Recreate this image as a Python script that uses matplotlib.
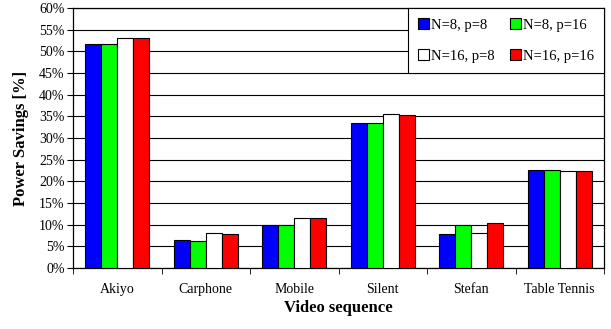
import matplotlib
matplotlib.use("Agg")
import matplotlib.pyplot as plt
import numpy as np

categories = ["Akiyo", "Carphone", "Mobile", "Silent", "Stefan", "Table Tennis"]
series_names = ["N=8, p=8", "N=8, p=16", "N=16, p=8", "N=16, p=16"]
n8_p8 = [51.6, 6.5, 9.9, 33.5, 7.8, 22.7]
n8_p16 = [51.6, 6.2, 9.9, 33.4, 9.9, 22.6]
n16_p8 = [53.0, 8.1, 11.5, 35.5, 8.0, 22.5]
n16_p16 = [53.0, 7.9, 11.5, 35.4, 10.3, 22.5]
colors = ["#0000ff", "#00ff00", "#ffffff", "#ff0000"]
yticks = list(range(0, 61, 5))

plt.rcParams['font.family'] = ['Liberation Serif', 'DejaVu Serif']

fig = plt.figure(figsize=(6.11, 3.29), dpi=100)
ax = fig.add_axes([73/611, 1-268/329, (604-73)/611, 260/329])

x = np.arange(len(categories))
w = 0.18
data = [n8_p8, n8_p16, n16_p8, n16_p16]
handles = []
for i, (vals, c, name) in enumerate(zip(data, colors, series_names)):
    b = ax.bar(x + (i - 1.5) * w, vals, width=w, color=c, edgecolor="black",
               linewidth=0.8, label=name, zorder=3)
    handles.append(b)

ax.set_xlim(-0.5, len(categories) - 0.5)
ax.set_ylim(0, 60)
ax.set_yticks(yticks)
ax.set_yticklabels([f"{t}%" for t in yticks], fontsize=10)
ax.yaxis.grid(True, color="black", linewidth=0.8, zorder=0)
ax.set_axisbelow(True)

ax.set_xticks(x)
ax.set_xticklabels(categories, fontsize=10)
ax.tick_params(axis="x", length=0, pad=11)
ax.set_xticks(np.arange(-0.5, len(categories)), minor=True)
ax.tick_params(axis="x", which="minor", length=4, direction="out")
ax.tick_params(axis="y", length=4, direction="out", width=0.8, pad=2)

for s in ax.spines.values():
    s.set_linewidth(0.9)
    s.set_color("black")

ax.set_xlabel("Video sequence", fontsize=12, fontweight="bold", labelpad=3)
ax.set_ylabel("Power Savings [%]", fontsize=12, fontweight="bold", labelpad=7)

order = [0, 2, 1, 3]
leg = ax.legend([handles[i] for i in order], [series_names[i] for i in order],
                ncol=2, loc="upper right", fontsize=10.5, frameon=True,
                fancybox=False, edgecolor="black", framealpha=1,
                borderaxespad=0, handlelength=0.75, handleheight=0.75,
                handletextpad=0.1, columnspacing=1.1, labelspacing=1.2,
                borderpad=0.7)
leg.get_frame().set_linewidth(0.8)

fig.savefig("out.png", dpi=100)
